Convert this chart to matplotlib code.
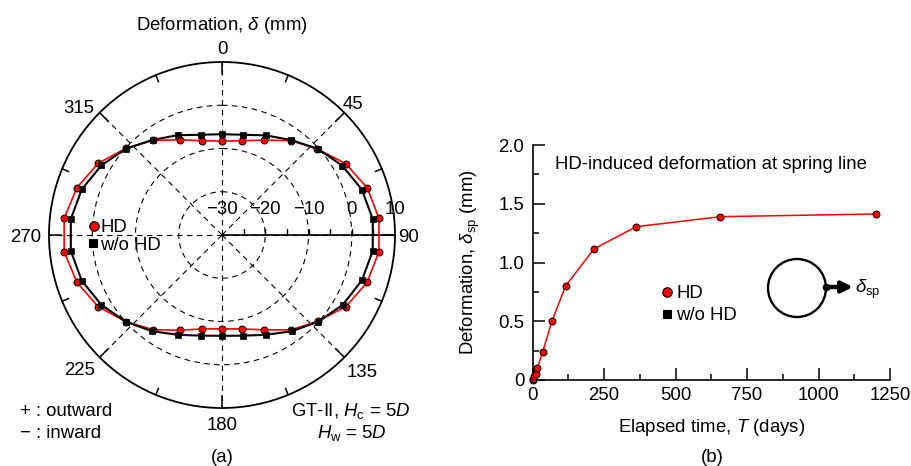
import numpy as np
import matplotlib
matplotlib.use("Agg")
import matplotlib.pyplot as plt
from matplotlib.lines import Line2D
from matplotlib.patches import Ellipse

plt.rcParams['font.family'] = ['Liberation Sans', 'DejaVu Sans']
plt.rcParams['font.size'] = 13.4
plt.rcParams['mathtext.fontset'] = 'custom'
plt.rcParams['mathtext.rm'] = 'Liberation Sans'
plt.rcParams['mathtext.it'] = 'Liberation Sans:italic'
plt.rcParams['mathtext.bf'] = 'Liberation Sans:bold'

W, H = 911, 466

# (a) deformation around the pipe (mm), one value every 12 degrees
angles = np.arange(0, 360, 12)
defo_hd = [-8.3, -7.7, -6.0, -3.0, -0.3, 3.0, 5.3, 6.5, 6.5, 5.3, 3.1, -0.2, -2.9, -6.0, -7.8,
           -8.3, -7.8, -5.9, -2.95, -0.05, 3.1, 5.3, 6.7, 6.7, 5.3, 3.1, -0.05, -2.95, -5.9, -7.7]
defo_nohd = [-6.7, -6.3, -4.8, -2.85, -0.2, 2.1, 4.0, 5.05, 5.05, 4.0, 2.25, -0.05, -2.5, -4.75, -6.2,
             -6.7, -6.2, -4.75, -2.5, -0.05, 2.25, 4.1, 5.15, 5.15, 4.1, 2.2, -0.15, -2.8, -4.75, -6.3]
r_ticks = [-30, -20, -10, 0, 10]
theta_labels = [0, 45, 90, 135, 180, 225, 270, 315]

# (b) HD-induced deformation at spring line vs elapsed time
days = [0, 2, 6, 10, 16, 35, 67, 115, 214, 362, 656, 1201]
defo_sp = [0, 0.01, 0.03, 0.05, 0.10, 0.24, 0.50, 0.80, 1.115, 1.305, 1.39, 1.413]
x_ticks = [0, 250, 500, 750, 1000, 1250]
y_ticks = [0, 0.5, 1.0, 1.5, 2.0]
y_ticklabels = ['0', '0.5', '1.0', '1.5', '2.0']


def fx(x):
    return x / W


def fy(y):
    return 1 - y / H


def px2pt(v):
    return v * 72.0 / 100


fig = plt.figure(figsize=(W / 100, H / 100), dpi=100)

# ---------------- (a) polar plot ----------------
cx, cy, R = 222, 235, 173
ax = fig.add_axes([fx(cx - R), fy(cy + R), 2 * R / W, 2 * R / H], projection='polar')
ax.set_theta_zero_location('N')
ax.set_theta_direction(-1)
ax.set_ylim(-30, 10)
ax.set_xticks(np.deg2rad(theta_labels))
ax.set_xticklabels([])
ax.set_yticks([-20, -10, 0])
ax.set_yticklabels([])
ax.tick_params(axis='both', length=0)
ax.grid(True, color='k', lw=0.8, ls=(0, (5, 4)))
ax.spines['polar'].set_linewidth(1.3)

# angular ticks (inward)
for a in np.arange(0, 360, 22.5):
    L = 2.8 if a % 45 == 0 else 1.6
    ax.plot([np.deg2rad(a)] * 2, [10 - L, 10], color='k', lw=1.1, clip_on=False, zorder=2)

# radial axis along 90 deg
ax.plot([np.pi / 2] * 2, [-30, 10], color='k', lw=1.2, zorder=2)
ax.plot([np.pi / 2] * 7, np.arange(-25, 10, 5), ls='none', marker=2, ms=4.5, mew=1.0,
        color='k', zorder=2)
for r in r_ticks:
    ax.annotate(str(r).replace('-', '\u2212'), xy=(np.pi / 2, r), xytext=(0, px2pt(27)),
                textcoords='offset points', ha='center', va='center_baseline')

# angle labels
lab_off = {0: (0, 14), 45: (9, 10), 90: (14, 0), 135: (18, -13), 180: (0, -15),
           225: (-20, -11), 270: (-23, 0), 315: (-21, 6)}
for a in theta_labels:
    dx, dy = lab_off[a]
    ax.annotate(str(a), xy=(np.deg2rad(a), 10), xytext=(px2pt(dx), px2pt(dy)),
                textcoords='offset points', ha='center', va='center_baseline',
                annotation_clip=False)

th = np.deg2rad(np.append(angles, 360))
ax.plot(th, np.append(defo_hd, defo_hd[0]), color='red', lw=1.2, zorder=3)
ax.plot(th, np.append(defo_nohd, defo_nohd[0]), color='k', lw=1.5, zorder=3)
ax.plot(np.deg2rad(angles), defo_hd, ls='none', marker='o', ms=5, mfc='red', mec='k',
        mew=0.7, zorder=4, clip_on=False)
ax.plot(np.deg2rad(angles), defo_nohd, ls='none', marker='s', ms=4.6, mfc='k', mec='k',
        mew=0.5, zorder=5, clip_on=False)


def legend_entry(x, y, marker, ms, text, tx):
    fig.add_artist(Line2D([fx(x)], [fy(y)], transform=fig.transFigure, ls='none',
                          marker=marker, ms=ms, mfc='red' if marker == 'o' else 'k',
                          mec='k', mew=0.8))
    fig.text(fx(tx), fy(y), text, ha='left', va='center_baseline')


legend_entry(94, 226, 'o', 6.8, 'HD', 100)
legend_entry(93, 243, 's', 5.8, 'w/o HD', 100)

fig.text(fx(222), fy(22), 'Deformation, $\\delta$ (mm)', ha='center', va='center_baseline')
fig.text(fx(20), fy(416), '+ : outward', ha='left', va='baseline')
fig.text(fx(20), fy(438), '\u2212 : inward', ha='left', va='baseline')
fig.text(fx(351), fy(416), 'GT-II, $H_{\\rm c}$ = 5$D$', ha='center', va='baseline')
fig.text(fx(352), fy(438), '$H_{\\rm w}$ = 5$D$', ha='center', va='baseline')
fig.text(fx(222), fy(457), '(a)', ha='center', va='center')

# ---------------- (b) time history ----------------
x0, x1, y0, y1 = 532.7, 890, 380, 145
ax2 = fig.add_axes([fx(x0), fy(y0), (x1 - x0) / W, (y0 - y1) / H])
ax2.plot(days, defo_sp, color='red', lw=1.1, marker='o', ms=5, mfc='red', mec='k',
         mew=0.7, clip_on=False, zorder=3)
ax2.set_xlim(0, 1250)
ax2.set_ylim(0, 2)
for s in ['top', 'right']:
    ax2.spines[s].set_visible(False)
for s in ['left', 'bottom']:
    ax2.spines[s].set_linewidth(1.2)
ax2.set_xticks(x_ticks)
ax2.set_xticks(np.arange(125, 1250, 250), minor=True)
ax2.set_yticks(y_ticks)
ax2.set_yticklabels(y_ticklabels)
ax2.set_yticks(np.arange(0.25, 2, 0.5), minor=True)
ax2.tick_params(which='both', direction='in', width=1.1)
ax2.tick_params(which='major', length=8.5)
ax2.tick_params(which='minor', length=4.5)
ax2.tick_params(axis='y', pad=6)
ax2.tick_params(axis='x', pad=5)

aw, ah = x1 - x0, y0 - y1
ax2.set_ylabel('Deformation, $\\delta_{\\rm sp}$ (mm)', va='center')
ax2.yaxis.set_label_coords((470.7 - x0) / aw, 0.5)
ax2.set_xlabel('Elapsed time, $T$ (days)', va='center')
ax2.xaxis.set_label_coords(0.5, (y0 - 427) / ah)

ax2.text((555 - x0) / aw, (y0 - 162) / ah, 'HD-induced deformation at spring line',
         transform=ax2.transAxes, ha='left', va='center_baseline')

# pipe sketch
ax2.add_patch(Ellipse(((797 - x0) / aw, (y0 - 288) / ah), 58 / aw, 58 / ah,
                      transform=ax2.transAxes, fill=False, lw=1.7, color='k'))
ax2.annotate('', xy=((853 - x0) / aw, (y0 - 287) / ah), xytext=((827 - x0) / aw, (y0 - 287) / ah),
             xycoords='axes fraction', textcoords='axes fraction',
             arrowprops=dict(arrowstyle='-|>', lw=3.2, color='k', mutation_scale=16,
                             shrinkA=0, shrinkB=0))
ax2.plot([(826 - x0) / aw], [(y0 - 287) / ah], 'ko', ms=4.5, transform=ax2.transAxes)
ax2.text((855 - x0) / aw, (y0 - 293) / ah, '$\\delta_{\\rm sp}$', transform=ax2.transAxes,
         ha='left', va='baseline')

legend_entry(667, 292, 'o', 6.8, 'HD', 676)
legend_entry(667, 314, 's', 5.8, 'w/o HD', 676)

fig.text(fx(712), fy(457), '(b)', ha='center', va='center')

fig.savefig('out.png', dpi=100)
